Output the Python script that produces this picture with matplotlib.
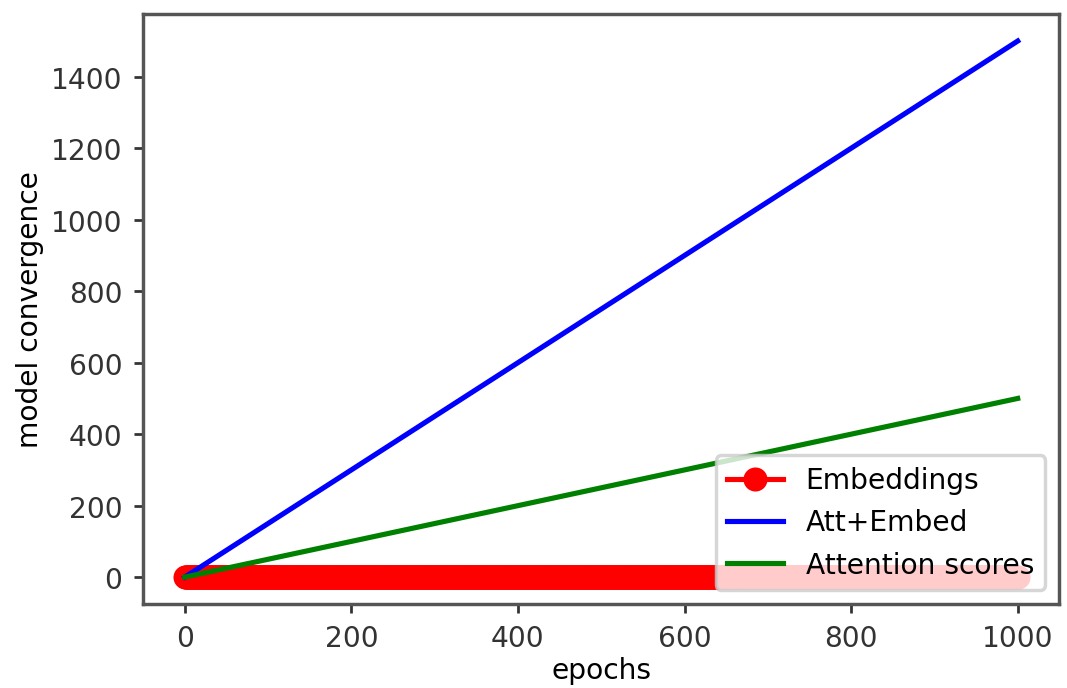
import numpy as np
import matplotlib
matplotlib.use("Agg")
import matplotlib.pyplot as plt
from matplotlib.ticker import MultipleLocator

# data
epochs = np.arange(0, 1001)
embeddings = np.zeros(len(epochs))          # sits on ~0 the whole run
line_x = [0, 1000]
att_embed = [0, 1500]
attention_scores = [0, 500]

plt.rcParams['font.size'] = 8.2

fig = plt.figure(figsize=(4.32, 2.787), dpi=247.2)
ax = fig.add_subplot(1, 1, 1)
fig.subplots_adjust(left=0.134, right=0.992, top=0.978, bottom=0.122)

ax.plot(epochs, embeddings, 'r-o', label='Embeddings')
ax.plot(line_x, att_embed, 'b', label='Att+Embed')
ax.plot(line_x, attention_scores, 'g', label='Attention scores')

ax.yaxis.set_major_locator(MultipleLocator(200))
ax.set_xlabel('epochs', labelpad=1)
ax.set_ylabel('model convergence', labelpad=2)
ax.legend(loc='lower right')

for s in ax.spines.values():
    s.set_color('#555555')
    s.set_linewidth(1.0)
ax.tick_params(colors='#333333', length=2.5, pad=3.5)

fig.savefig('out.png', dpi=247.2)
